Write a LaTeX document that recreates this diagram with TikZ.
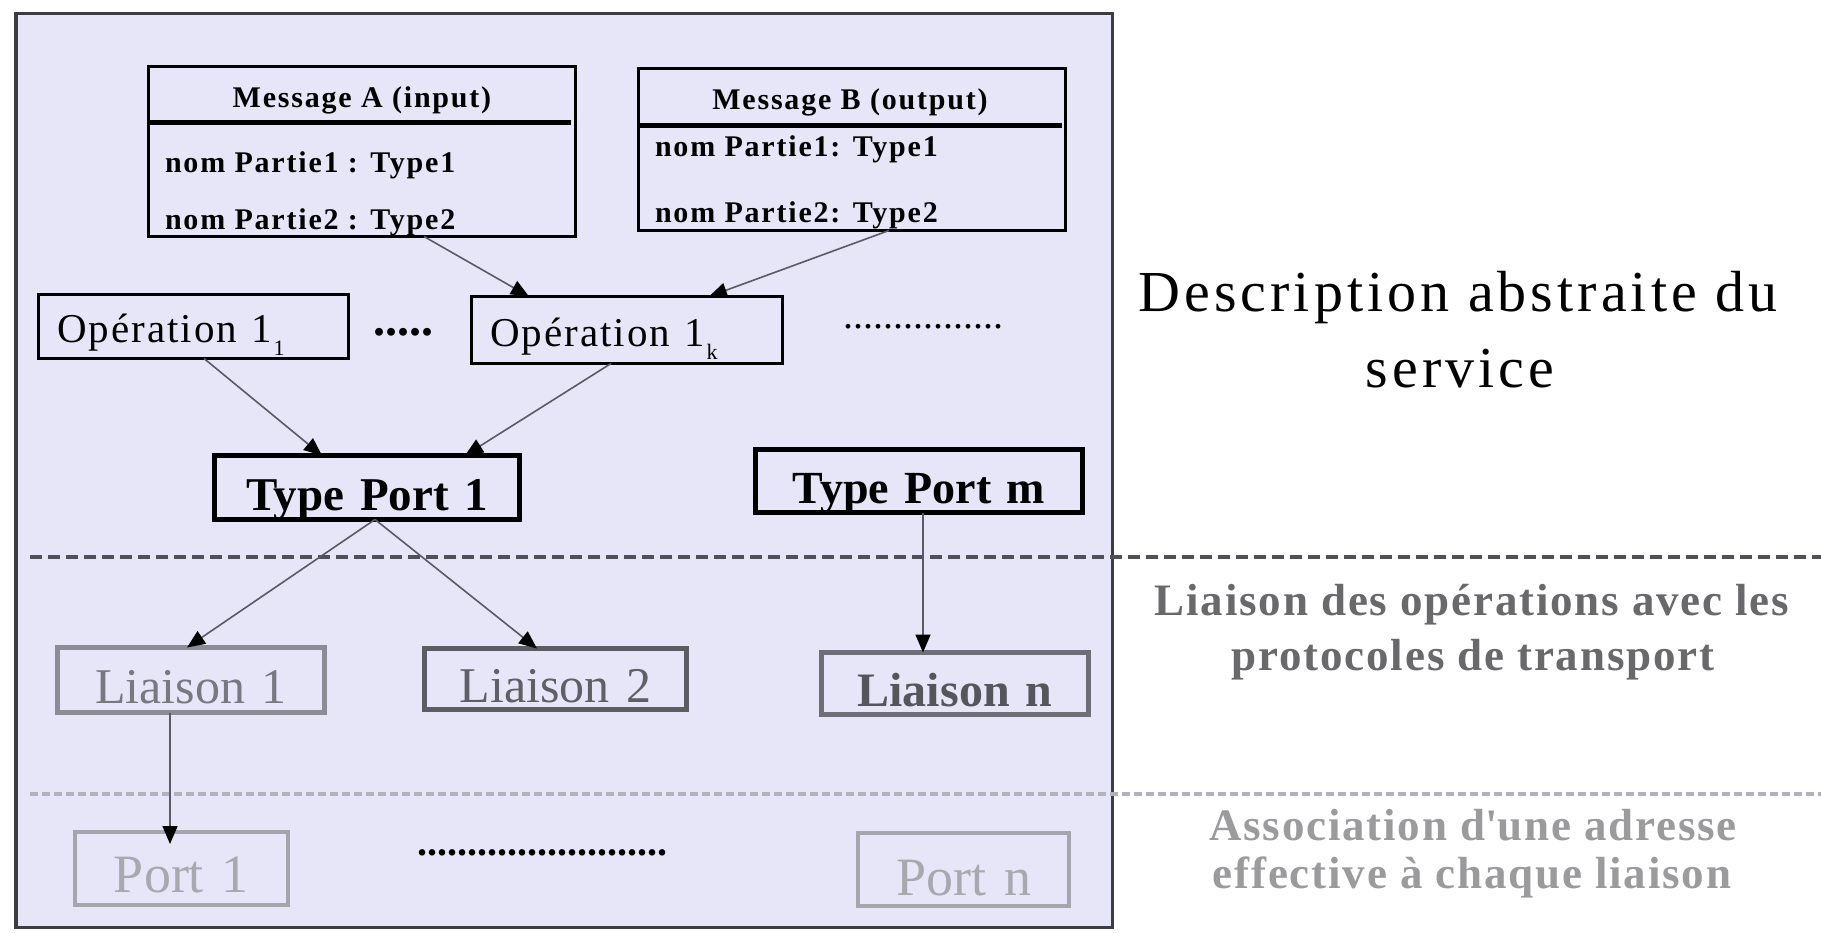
\documentclass[tikz,border=0pt]{standalone}
\usepackage{fontspec}
\setmainfont{Liberation Serif}
\newfontfamily\fMsg{Liberation Serif}[LetterSpace=6]
\newfontfamily\fOp{Liberation Serif}[LetterSpace=5]
\newfontfamily\fDesc{Liberation Serif}[LetterSpace=7]
\newfontfamily\fSide{Liberation Serif}[LetterSpace=4]
\usetikzlibrary{arrows.meta,calc}
\newcommand\setfs[1]{\fontsize{#1pt}{#1pt}\selectfont}
\definecolor{bgc}{RGB}{230,230,248}
\definecolor{framec}{RGB}{60,60,66}
\definecolor{connc}{RGB}{90,90,100}
\definecolor{dashA}{RGB}{80,80,90}
\definecolor{dashB}{RGB}{178,178,188}
\definecolor{liAb}{RGB}{140,140,150}
\definecolor{liAt}{RGB}{120,120,128}
\definecolor{liBb}{RGB}{92,92,100}
\definecolor{liBt}{RGB}{95,95,102}
\definecolor{liNb}{RGB}{110,110,120}
\definecolor{liNt}{RGB}{85,85,92}
\definecolor{portb}{RGB}{165,165,174}
\definecolor{portt}{RGB}{168,168,175}
\definecolor{sideB}{RGB}{105,105,108}
\definecolor{sideC}{RGB}{155,155,158}
\begin{document}
\begin{tikzpicture}[x=1pt,y=-1pt,
  txt/.style={inner sep=0pt,outer sep=0pt},
  msgbox/.style={draw=black,line width=3pt,rectangle,inner sep=0pt,outer sep=0pt},
  lbox/.style={draw,rectangle,inner ysep=0pt,inner xsep=0pt,outer sep=0pt,anchor=base},
  opbox/.style={lbox,draw=black,line width=3pt,align=left,inner xsep=18.5pt,font=\fOp\setfs{41}},
  tpbox/.style={lbox,draw=black,line width=5pt,align=center,font=\bfseries\setfs{47}},
  libox/.style={lbox,line width=5pt,align=center,font=\setfs{50}},
  portbox/.style={lbox,draw=portb,line width=4pt,align=center,font=\setfs{54},text=portt},
  msgtitle/.style={txt,anchor=base,font=\fMsg\bfseries\setfs{30}},
  msgline/.style={txt,anchor=base west,font=\fMsg\bfseries\setfs{30}},
  conn/.style={draw=connc,line width=1.6pt,-{Triangle[length=18pt,width=15pt,color=black]}}
]
\useasboundingbox (0,0) rectangle (1821,933);
\fill[white] (0,0) rectangle (1821,933);
\draw[draw=framec,fill=bgc,line width=3.5pt] (15.75,13.75) rectangle (1112.25,927.25);

% separating dashed lines
\draw[dashA,line width=4pt,dash pattern=on 12pt off 6pt] (30,557) -- (1821,557);
\draw[dashB,line width=4pt,dash pattern=on 8pt off 4pt] (30,794) -- (1821,794);

% message boxes
\node[msgbox,minimum width=427pt,minimum height=170pt] (msgA) at (362,151.5) {};
\draw[line width=5pt] (148.5,123) -- (571,123);
\node[msgtitle] (msgAt) at (362,108) {Message A (input)};
\node[msgline] (msgA1) at (165,173) {nom Partie1 : Type1};
\node[msgline] (msgA2) at (165,230) {nom Partie2 : Type2};

\node[msgbox,minimum width=427pt,minimum height=162pt] (msgB) at (852,149.5) {};
\draw[line width=5pt] (638.5,126) -- (1062,126);
\node[msgtitle] (msgBt) at (850,110) {Message B (output)};
\node[msgline] (msgB1) at (655,157) {nom Partie1: Type1};
\node[msgline] (msgB2) at (655,223) {nom Partie2: Type2};

% operations
\node[opbox,text width=273pt,text height=48.5pt,text depth=15.5pt] (op1) at (193.5,343)
  {Opération 1\hspace{2pt}\raisebox{-13pt}{\setfs{22}1}};
\node[opbox,text width=274pt,text height=50.5pt,text depth=16.5pt] (opk) at (627,347)
  {Opération 1\hspace{2pt}\raisebox{-13pt}{\setfs{22}k}};
\node[txt,anchor=base west,font=\bfseries\setfs{48}] (dots1) at (373,336) {.....};
\node[txt,anchor=base west,font=\setfs{40}] (dots2) at (843,329) {................};

% port types
\node[tpbox,text width=305pt,text height=54.5pt,text depth=9.5pt] (tp1) at (367,510) {Type Port 1};
\node[tpbox,text width=327pt,text height=53.5pt,text depth=9.5pt,font=\bfseries\setfs{46}] (tpm) at (919,503) {Type Port m};

% bindings
\node[libox,draw=liAb,text=liAt,text width=267pt,text height=55.5pt,text depth=9.5pt] (li1) at (191,703) {Liaison 1};
\node[libox,draw=liBb,text=liBt,text width=262pt,text height=53.5pt,text depth=7.5pt] (li2) at (555.5,702) {Liaison 2};
\node[libox,draw=liNb,text=liNt,text width=267pt,text height=53.5pt,text depth=8.5pt,font=\bfseries\setfs{48}] (lin) at (955,706) {Liaison n};

% ports
\node[portbox,text width=213pt,text height=60pt,text depth=13pt] (port1) at (181.5,892) {Port 1};
\node[portbox,text width=211pt,text height=62pt,text depth=11pt] (portn) at (963.5,895) {Port n};
\node[txt,anchor=base west,font=\bfseries\setfs{40}] (dots3) at (417,855) {.........................};

% connectors
\draw[conn] ([xshift=62pt]msgA.south) -- ([xshift=-98pt]opk.north);
\draw[conn] ([xshift=37pt]msgB.south) -- ([xshift=82pt]opk.north);
\draw[conn] ([xshift=10.5pt]op1.south) -- ([xshift=-45pt]tp1.north);
\draw[conn] ([xshift=-16pt]opk.south) -- ([xshift=98pt]tp1.north);
\draw[conn] ([xshift=8pt]tp1.south) -- ([xshift=-4pt]li1.north);
\draw[conn] ([xshift=8pt]tp1.south) -- ([xshift=-18.5pt]li2.north);
\draw[conn] ([xshift=4pt]tpm.south) -- ([xshift=-32pt]lin.north);
\draw[conn,shorten >=-12pt] ([xshift=-21pt]li1.south) -- ([xshift=-11.5pt]port1.north);

% right-hand captions
\node[txt,anchor=base,font=\fDesc\setfs{58}] (desc1) at (1458,312) {Description abstraite du};
\node[txt,anchor=base,font=\fDesc\setfs{58}] (desc2) at (1460,387) {service};
\node[txt,anchor=base,font=\fSide\bfseries\setfs{45},text=sideB] (bind1) at (1472,615) {Liaison des opérations avec les};
\node[txt,anchor=base,font=\fSide\bfseries\setfs{45},text=sideB] (bind2) at (1473,670) {protocoles de transport};
\node[txt,anchor=base,font=\fSide\bfseries\setfs{45},text=sideC] (assoc1) at (1473,840) {Association d\textquotesingle une adresse};
\node[txt,anchor=base,font=\fSide\bfseries\setfs{45},text=sideC] (assoc2) at (1472,888) {effective à chaque liaison};
\end{tikzpicture}
\end{document}
